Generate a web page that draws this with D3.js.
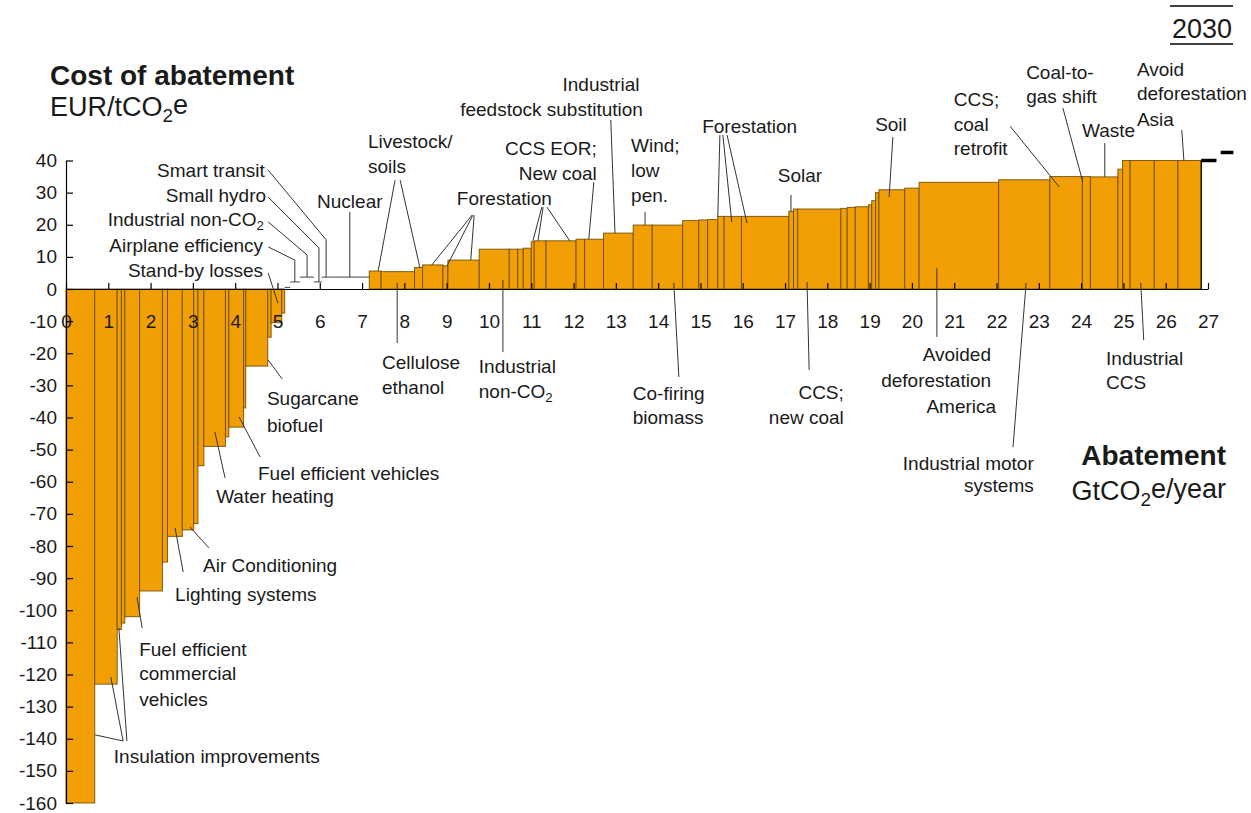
<!DOCTYPE html>
<html><head><meta charset="utf-8">
<script src="https://cdn.jsdelivr.net/npm/d3@7"></script>
<style>
body{margin:0;background:#fff}
text{font-family:"Liberation Sans",Arial,sans-serif;fill:#1a1a1a}
</style>
</head><body>
<svg id="c" width="1251" height="813"></svg>
<script>
// Abatement widths (GtCO2e/year) of each lever, left to right
const widths = [0.68,0.53,0.10,0.08,0.35,0.54,0.12,0.35,0.27,0.10,0.14,0.51,0.08,0.35,0.05,0.52,0.08,0.25,0.07,
  0.13,0.23,0.33,0.19,0.17,0.95,
  0.28,0.79,0.19,0.48,0.12,0.74,0.71,0.20,0.13,0.19,0.07,0.28,0.71,0.20,0.45,0.70,0.45,0.72,
  0.38,0.21,0.24,0.15,0.41,1.12,0.11,0.10,1.02,0.15,0.19,0.31,0.08,0.09,0.08,0.61,0.34,1.88,1.21,0.77,0.19,0.65,0.11,0.18,0.57,0.56,0.55];
// Cost of abatement (EUR/tCO2e) of each lever
const costs = [-160,-123,-106,-104,-102,-94,-85,-77,-75,-73,-55,-49,-46,-43,-37,-24,-15,-10.5,-7.5,
  0.5,2.2,3.7,2.2,3.7,3.7,
  5.6,5.4,6.7,7.5,7.2,9.0,12.4,12.4,12.4,12.7,14.7,15.0,15.0,15.5,15.5,17.4,19.9,19.9,
  21.3,21.5,21.6,22.6,22.6,22.6,24.2,24.9,24.9,25.1,25.4,25.6,26.2,27.5,30.0,30.9,31.4,33.2,34.0,35.0,35.0,34.9,37.3,40,40,40,40];
const xTicks = d3.range(0, 28, 1);
const yTicks = d3.range(-160, 41, 10);
// Off-scale markers beyond the curve end: [from, to, cost]
const offScale = [[26.84, 27.2, 40], [27.30, 27.60, 42.5]];
// Lever labels: [text, x (Gt), y (EUR), anchor]
const labels = [
 ["Smart transit",4.70,34.9,"end"],["Small hydro",4.73,27.2,"end"],["Industrial non-CO_2",4.68,19.6,"end"],
 ["Airplane efficiency",4.66,11.6,"end"],["Stand-by losses",4.66,3.6,"end"],["Nuclear",6.71,25.1,"middle"],
 ["Livestock/",7.14,43.8,"start"],["soils",7.14,36.0,"start"],["Forestation",9.24,26.1,"start"],
 ["CCS EOR;",12.55,41.7,"end"],["New coal",12.55,33.9,"end"],
 ["Industrial",12.65,61.7,"middle"],["feedstock substitution",11.48,53.9,"middle"],
 ["Wind;",13.36,42.6,"start"],["low",13.36,35.0,"start"],["pen.",13.36,27.0,"start"],
 ["Forestation",15.04,48.7,"start"],["Solar",16.83,33.4,"start"],["Soil",19.13,49.2,"start"],
 ["CCS;",20.99,57.0,"start"],["coal",20.99,49.2,"start"],["retrofit",20.99,41.6,"start"],
 ["Coal-to-",22.70,65.4,"start"],["gas shift",22.70,57.9,"start"],["Waste",24.02,47.3,"start"],
 ["Avoid",25.32,66.3,"start"],["deforestation",25.32,58.7,"start"],["Asia",25.32,50.7,"start"],
 ["Cellulose",7.47,-25.0,"start"],["ethanol",7.47,-32.7,"start"],
 ["Industrial",9.76,-26.1,"start"],["non-CO_2",9.76,-33.8,"start"],
 ["Co-firing",13.40,-34.7,"start"],["biomass",13.40,-42.0,"start"],
 ["CCS;",18.39,-34.2,"end"],["new coal",18.39,-42.0,"end"],
 ["Avoided",21.87,-22.4,"end"],["deforestation",21.87,-30.4,"end"],["America",21.99,-38.5,"end"],
 ["Industrial motor",22.88,-56.4,"end"],["systems",22.88,-63.3,"end"],
 ["Industrial",24.59,-23.7,"start"],["CCS",24.59,-31.2,"start"],
 ["Sugarcane",4.75,-36.1,"start"],["biofuel",4.75,-44.4,"start"],
 ["Fuel efficient vehicles",4.54,-59.5,"start"],["Water heating",3.55,-66.5,"start"],
 ["Air Conditioning",3.24,-88.0,"start"],["Lighting systems",2.58,-97.0,"start"],
 ["Fuel efficient",1.73,-114.1,"start"],["commercial",1.73,-121.7,"start"],["vehicles",1.73,-129.7,"start"],
 ["Insulation improvements",1.13,-147.6,"start"]
];
// Leader lines (polylines in Gt / EUR units)
const leaders = [
 [[4.78,37.0],[6.15,15.3],[6.15,3.7]],[[4.78,28.6],[5.98,12.8],[5.98,2.2]],
 [[4.78,20.9],[5.70,10.6],[5.70,3.7]],[[4.78,13.1],[5.41,9.0],[5.41,2.2]],
 [[4.78,5.0],[5.01,-4.4]],[[6.71,24.0],[6.71,3.7]],
 [[7.78,33.9],[7.38,5.6]],[[7.90,33.9],[8.37,6.5]],
 [[9.60,23.0],[8.65,7.5]],[[9.62,23.0],[9.01,7.2]],[[9.65,23.0],[9.57,9.0]],
 [[11.25,25.5],[11.04,15.0]],[[11.28,25.5],[11.16,15.0]],[[11.37,25.5],[11.91,15.0]],
 [[12.48,33.3],[12.36,15.5]],[[12.88,52.6],[12.98,17.4]],[[13.69,24.0],[13.69,19.9]],
 [[15.46,47.9],[15.41,22.4]],[[15.53,47.9],[15.74,20.9]],[[15.63,47.9],[16.10,20.5]],
 [[17.14,29.3],[17.14,24.2]],[[19.55,47.3],[19.46,28.6]],[[22.32,50.7],[23.48,31.8]],
 [[23.57,56.3],[24.04,33.3]],[[24.56,45.4],[24.56,34.9]],[[26.38,49.5],[26.43,40]],
 [[7.83,1.9],[7.83,-16.8]],[[10.33,2.8],[10.33,-19.6]],[[14.37,1.9],[14.49,-27.4]],
 [[17.52,2.2],[17.57,-25.2]],[[20.59,6.5],[20.59,-14.9]],[[22.70,1.9],[22.39,-49.2]],
 [[25.41,1.9],[25.48,-15.9]],[[4.78,-22.1],[5.11,-28.0]],[[4.09,-39.8],[4.59,-52.3]],
 [[3.52,-44.5],[3.76,-58.8]],[[2.93,-74.1],[3.38,-80.6]],[[2.58,-74.4],[2.77,-88.1]],
 [[1.68,-95.9],[1.80,-105.5]],
 [[1.35,-140.7],[0.69,-138.8]],[[1.35,-140.7],[1.06,-120.8]],[[1.44,-140.7],[1.25,-105.5]]
];

const svg = d3.select("#c");
const xs = d3.scaleLinear().domain([0, 27]).range([66, 1208]);
const ys = d3.scaleLinear().domain([-160, 40]).range([803, 160.5]);

let acc = 0;
const bars = widths.map((w, i) => { const b = {x0: acc, x1: acc + w, c: costs[i]}; acc += w; return b; });

const gb = svg.append("g");
const filled = bars.filter(b => b.c < 0 || b.c >= 5);
gb.selectAll("rect").data(filled).join("rect")
  .attr("x", b => xs(b.x0)).attr("width", b => xs(b.x1) - xs(b.x0))
  .attr("y", b => ys(Math.max(0, b.c))).attr("height", b => Math.abs(ys(b.c) - ys(0)))
  .attr("fill", "#F29F05").attr("stroke", "#6a4a00").attr("stroke-width", 1).attr("stroke-opacity", 0.85);
// near-zero levers shown only by their top edge
gb.selectAll("line.tiny").data(bars.filter(b => b.c > 0 && b.c < 5)).join("line").attr("class","tiny")
  .attr("x1", b => xs(b.x0)).attr("x2", b => xs(b.x1)).attr("y1", b => ys(b.c)).attr("y2", b => ys(b.c))
  .attr("stroke", "#444").attr("stroke-width", 1);

// off-scale markers
svg.append("g").selectAll("line").data(offScale).join("line")
  .attr("x1", d => xs(d[0])).attr("x2", d => xs(d[1])).attr("y1", d => ys(d[2])).attr("y2", d => ys(d[2]))
  .attr("stroke", "#000").attr("stroke-width", 3.5);
// right edge of last lever
const last = bars[bars.length - 1];
svg.append("line").attr("x1", xs(last.x1)).attr("x2", xs(last.x1)).attr("y1", ys(last.c)).attr("y2", ys(0))
  .attr("stroke", "#000").attr("stroke-width", 1.2);

// axes
const gx = svg.append("g").attr("transform", `translate(0,${ys(0)})`)
  .call(d3.axisBottom(xs).tickValues(xTicks).tickSizeInner(-6).tickSizeOuter(0).tickFormat(d => String(d)));
gx.attr("font-size", 19).attr("font-family", "Liberation Sans, Arial, sans-serif");
gx.selectAll("text").attr("y", 26);
const gy = svg.append("g").attr("transform", `translate(${xs(0)},0)`)
  .call(d3.axisLeft(ys).tickValues(yTicks).tickSizeInner(-7).tickSizeOuter(0).tickPadding(9).tickFormat(d => String(d)));
gy.attr("font-size", 19).attr("font-family", "Liberation Sans, Arial, sans-serif");
svg.selectAll(".domain, .tick line").attr("stroke", "#000").attr("stroke-width", 1.2);

// leaders
const line = d3.line().x(d => xs(d[0])).y(d => ys(d[1]));
svg.append("g").selectAll("path").data(leaders).join("path")
  .attr("d", line).attr("fill", "none").attr("stroke", "#333").attr("stroke-width", 1);

// helper: text with _2 subscripts
function addText(sel, str) {
  const parts = str.split("_");
  sel.append("tspan").text(parts[0]);
  for (let i = 1; i < parts.length; i++) {
    sel.append("tspan").attr("font-size", "0.7em").attr("dy", "0.3em").text(parts[i][0]);
    if (parts[i].length > 1) sel.append("tspan").attr("dy", "-0.3em").text(parts[i].slice(1));
  }
}
const gl = svg.append("g").attr("font-size", 19);
labels.forEach(l => {
  const t = gl.append("text").attr("x", xs(l[1])).attr("y", ys(l[2])).attr("text-anchor", l[3]);
  addText(t, l[0]);
});

// titles
svg.append("text").attr("x", 50).attr("y", 85).attr("font-size", 28).attr("font-weight", "bold").text("Cost of abatement");
const t2 = svg.append("text").attr("x", 50).attr("y", 116).attr("font-size", 27); addText(t2, "EUR/tCO_2e");
svg.append("text").attr("x", 1226).attr("y", 465).attr("font-size", 28).attr("font-weight", "bold").attr("text-anchor", "end").text("Abatement");
const t4 = svg.append("text").attr("x", 1226).attr("y", 500).attr("font-size", 27).attr("text-anchor", "end"); addText(t4, "GtCO_2e/year");
svg.append("text").attr("x", 1232).attr("y", 38).attr("font-size", 27).attr("text-anchor", "end").text("2030");
[6, 44].forEach(y => svg.append("line").attr("x1", 1170).attr("x2", 1233).attr("y1", y).attr("y2", y).attr("stroke", "#000").attr("stroke-width", 1.5));
</script>
</body></html>
